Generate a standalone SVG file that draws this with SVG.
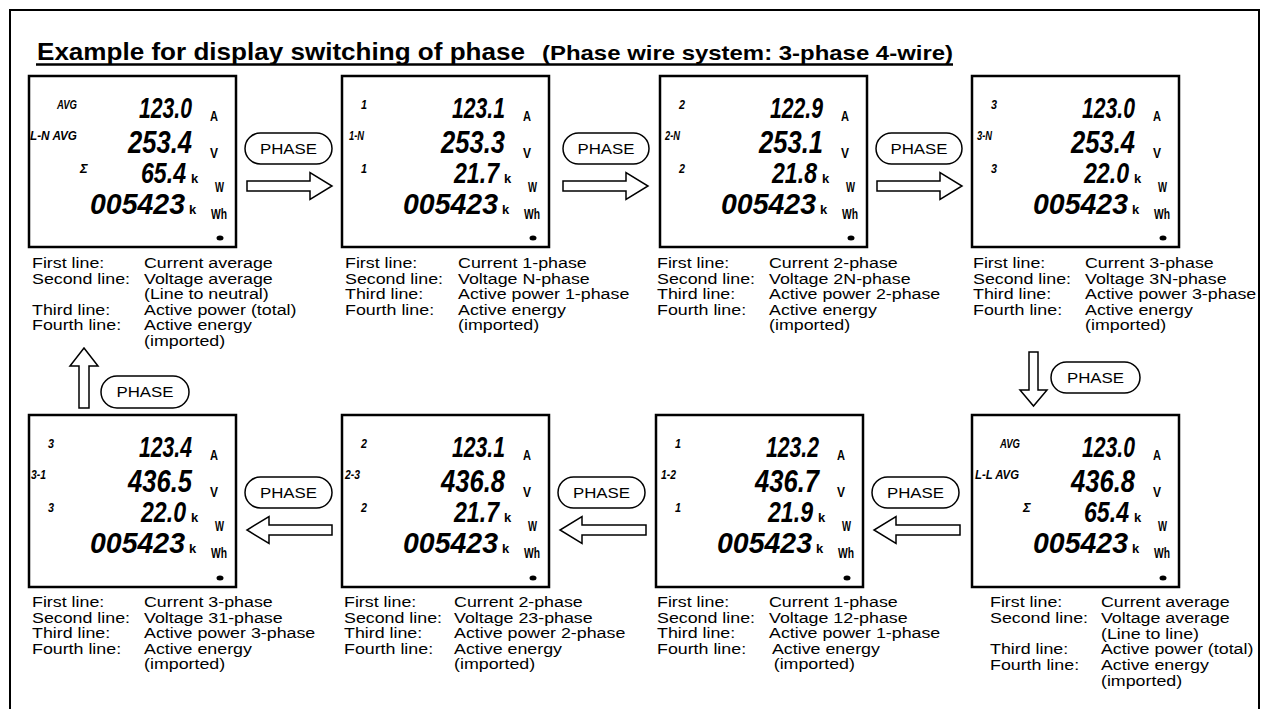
<svg xmlns="http://www.w3.org/2000/svg" width="1267" height="709" viewBox="0 0 1267 709">
<style>
.frame{fill:none;stroke:#000;stroke-width:2}
.lcd{fill:#fff;stroke:#000;stroke-width:2.5}
.lab{font-family:"Liberation Sans",Arial,sans-serif;font-weight:bold;font-style:italic;font-size:13px;fill:#000}
.dig{font-family:"Liberation Sans",Arial,sans-serif;font-weight:bold;font-style:italic;font-size:30px;fill:#000}
.dig2{font-size:32px}
.unit{font-family:"Liberation Sans",Arial,sans-serif;font-weight:bold;font-size:14px;fill:#000}
.kk{font-family:"Liberation Sans",Arial,sans-serif;font-weight:bold;font-size:13px;fill:#000}
.desc text{font-family:"Liberation Sans",Arial,sans-serif;font-size:15.5px;fill:#000}
.arrow{fill:#fff;stroke:#000;stroke-width:1.5;stroke-linejoin:miter}
.pill{fill:#fff;stroke:#000;stroke-width:1.5}
.pl{font-family:"Liberation Sans",Arial,sans-serif;font-size:14px;text-anchor:middle;fill:#000}
.title{font-family:"Liberation Sans",Arial,sans-serif;font-weight:bold;fill:#000}
</style>
<rect x="0" y="0" width="1267" height="709" fill="#fff"/>
<rect class="frame" x="10" y="10" width="1249" height="720"/>
<g id="title">
<text class="title" x="37" y="60" font-size="24" textLength="488" lengthAdjust="spacingAndGlyphs">Example for display switching of phase</text>
<text class="title" x="542" y="60" font-size="21" textLength="411" lengthAdjust="spacingAndGlyphs">(Phase wire system: 3-phase 4-wire)</text>
<line x1="36" y1="64.5" x2="953" y2="64.5" stroke="#000" stroke-width="2.5"/>
</g>

<g id="p1">
<g transform="translate(29,76)">
<rect class="lcd" x="0" y="0" width="207" height="171"/>
<text class="lab" x="28" y="33" textLength="20" lengthAdjust="spacingAndGlyphs">AVG</text>
<text class="lab" x="1" y="64" textLength="47" lengthAdjust="spacingAndGlyphs">L-N AVG</text>
<text class="lab" x="51" y="97">Σ</text>
<text class="dig" x="110" y="42" textLength="53" lengthAdjust="spacingAndGlyphs">123.0</text>
<text class="dig dig2" x="99" y="77" textLength="64" lengthAdjust="spacingAndGlyphs">253.4</text>
<text class="dig" x="112" y="107" textLength="45" lengthAdjust="spacingAndGlyphs">65.4</text>
<text class="dig" x="61" y="138" textLength="95" lengthAdjust="spacingAndGlyphs">005423</text>
<text class="kk" x="162" y="107">k</text><text class="kk" x="160" y="138">k</text>
<text class="unit" x="181" y="45" textLength="8" lengthAdjust="spacingAndGlyphs">A</text>
<text class="unit" x="181" y="82" textLength="8" lengthAdjust="spacingAndGlyphs">V</text>
<text class="unit" x="186" y="116" textLength="9" lengthAdjust="spacingAndGlyphs">W</text>
<text class="unit" x="182" y="143" textLength="16" lengthAdjust="spacingAndGlyphs">Wh</text>
<ellipse cx="191" cy="162" rx="3.5" ry="2.5"/>
</g>
<g class="desc" transform="translate(32,268) scale(1.15,1)">
<text x="0" y="0">First line:</text><text x="97.4" y="0">Current average</text>
<text x="0" y="15.6">Second line:</text><text x="97.4" y="15.6">Voltage average</text>
<text x="97.4" y="31.2">(Line to neutral)</text>
<text x="0" y="46.8">Third line:</text><text x="97.4" y="46.8">Active power (total)</text>
<text x="0" y="62.4">Fourth line:</text><text x="97.4" y="62.4">Active energy</text>
<text x="97.4" y="78">(imported)</text>
</g>
</g>

<g id="p2">
<g transform="translate(342,76)">
<rect class="lcd" x="0" y="0" width="207" height="171"/>
<text class="lab" x="19" y="33" textLength="6" lengthAdjust="spacingAndGlyphs">1</text>
<text class="lab" x="7" y="64" textLength="15" lengthAdjust="spacingAndGlyphs">1-N</text>
<text class="lab" x="19" y="97" textLength="6" lengthAdjust="spacingAndGlyphs">1</text>
<text class="dig" x="110" y="42" textLength="53" lengthAdjust="spacingAndGlyphs">123.1</text>
<text class="dig dig2" x="99" y="77" textLength="64" lengthAdjust="spacingAndGlyphs">253.3</text>
<text class="dig" x="112" y="107" textLength="45" lengthAdjust="spacingAndGlyphs">21.7</text>
<text class="dig" x="61" y="138" textLength="95" lengthAdjust="spacingAndGlyphs">005423</text>
<text class="kk" x="162" y="107">k</text><text class="kk" x="160" y="138">k</text>
<text class="unit" x="181" y="45" textLength="8" lengthAdjust="spacingAndGlyphs">A</text>
<text class="unit" x="181" y="82" textLength="8" lengthAdjust="spacingAndGlyphs">V</text>
<text class="unit" x="186" y="116" textLength="9" lengthAdjust="spacingAndGlyphs">W</text>
<text class="unit" x="182" y="143" textLength="16" lengthAdjust="spacingAndGlyphs">Wh</text>
<ellipse cx="191" cy="162" rx="3.5" ry="2.5"/>
</g>
<g class="desc" transform="translate(345,268) scale(1.15,1)">
<text x="0" y="0">First line:</text><text x="98.3" y="0">Current 1-phase</text>
<text x="0" y="15.6">Second line:</text><text x="98.3" y="15.6">Voltage N-phase</text>
<text x="0" y="31.2">Third line:</text><text x="98.3" y="31.2">Active power 1-phase</text>
<text x="0" y="46.8">Fourth line:</text><text x="98.3" y="46.8">Active energy</text>
<text x="98.3" y="62.4">(imported)</text>
</g>
</g>

<g id="p3">
<g transform="translate(660,76)">
<rect class="lcd" x="0" y="0" width="207" height="171"/>
<text class="lab" x="19" y="33" textLength="6" lengthAdjust="spacingAndGlyphs">2</text>
<text class="lab" x="5" y="64" textLength="15" lengthAdjust="spacingAndGlyphs">2-N</text>
<text class="lab" x="19" y="97" textLength="6" lengthAdjust="spacingAndGlyphs">2</text>
<text class="dig" x="110" y="42" textLength="53" lengthAdjust="spacingAndGlyphs">122.9</text>
<text class="dig dig2" x="99" y="77" textLength="64" lengthAdjust="spacingAndGlyphs">253.1</text>
<text class="dig" x="112" y="107" textLength="45" lengthAdjust="spacingAndGlyphs">21.8</text>
<text class="dig" x="61" y="138" textLength="95" lengthAdjust="spacingAndGlyphs">005423</text>
<text class="kk" x="162" y="107">k</text><text class="kk" x="160" y="138">k</text>
<text class="unit" x="181" y="45" textLength="8" lengthAdjust="spacingAndGlyphs">A</text>
<text class="unit" x="181" y="82" textLength="8" lengthAdjust="spacingAndGlyphs">V</text>
<text class="unit" x="186" y="116" textLength="9" lengthAdjust="spacingAndGlyphs">W</text>
<text class="unit" x="182" y="143" textLength="16" lengthAdjust="spacingAndGlyphs">Wh</text>
<ellipse cx="191" cy="162" rx="3.5" ry="2.5"/>
</g>
<g class="desc" transform="translate(657,268) scale(1.15,1)">
<text x="0" y="0">First line:</text><text x="97.4" y="0">Current 2-phase</text>
<text x="0" y="15.6">Second line:</text><text x="97.4" y="15.6">Voltage 2N-phase</text>
<text x="0" y="31.2">Third line:</text><text x="97.4" y="31.2">Active power 2-phase</text>
<text x="0" y="46.8">Fourth line:</text><text x="97.4" y="46.8">Active energy</text>
<text x="97.4" y="62.4">(imported)</text>
</g>
</g>

<g id="p4">
<g transform="translate(972,76)">
<rect class="lcd" x="0" y="0" width="207" height="171"/>
<text class="lab" x="19" y="33" textLength="6" lengthAdjust="spacingAndGlyphs">3</text>
<text class="lab" x="5" y="64" textLength="15" lengthAdjust="spacingAndGlyphs">3-N</text>
<text class="lab" x="19" y="97" textLength="6" lengthAdjust="spacingAndGlyphs">3</text>
<text class="dig" x="110" y="42" textLength="53" lengthAdjust="spacingAndGlyphs">123.0</text>
<text class="dig dig2" x="99" y="77" textLength="64" lengthAdjust="spacingAndGlyphs">253.4</text>
<text class="dig" x="112" y="107" textLength="45" lengthAdjust="spacingAndGlyphs">22.0</text>
<text class="dig" x="61" y="138" textLength="95" lengthAdjust="spacingAndGlyphs">005423</text>
<text class="kk" x="162" y="107">k</text><text class="kk" x="160" y="138">k</text>
<text class="unit" x="181" y="45" textLength="8" lengthAdjust="spacingAndGlyphs">A</text>
<text class="unit" x="181" y="82" textLength="8" lengthAdjust="spacingAndGlyphs">V</text>
<text class="unit" x="186" y="116" textLength="9" lengthAdjust="spacingAndGlyphs">W</text>
<text class="unit" x="182" y="143" textLength="16" lengthAdjust="spacingAndGlyphs">Wh</text>
<ellipse cx="191" cy="162" rx="3.5" ry="2.5"/>
</g>
<g class="desc" transform="translate(973,268) scale(1.15,1)">
<text x="0" y="0">First line:</text><text x="97.4" y="0">Current 3-phase</text>
<text x="0" y="15.6">Second line:</text><text x="97.4" y="15.6">Voltage 3N-phase</text>
<text x="0" y="31.2">Third line:</text><text x="97.4" y="31.2">Active power 3-phase</text>
<text x="0" y="46.8">Fourth line:</text><text x="97.4" y="46.8">Active energy</text>
<text x="97.4" y="62.4">(imported)</text>
</g>
</g>

<g id="p8">
<g transform="translate(29,415)">
<rect class="lcd" x="0" y="0" width="207" height="172"/>
<text class="lab" x="19" y="33" textLength="6" lengthAdjust="spacingAndGlyphs">3</text>
<text class="lab" x="2" y="64" textLength="15" lengthAdjust="spacingAndGlyphs">3-1</text>
<text class="lab" x="19" y="97" textLength="6" lengthAdjust="spacingAndGlyphs">3</text>
<text class="dig" x="110" y="42" textLength="53" lengthAdjust="spacingAndGlyphs">123.4</text>
<text class="dig dig2" x="99" y="77" textLength="64" lengthAdjust="spacingAndGlyphs">436.5</text>
<text class="dig" x="112" y="107" textLength="45" lengthAdjust="spacingAndGlyphs">22.0</text>
<text class="dig" x="61" y="138" textLength="95" lengthAdjust="spacingAndGlyphs">005423</text>
<text class="kk" x="162" y="107">k</text><text class="kk" x="160" y="138">k</text>
<text class="unit" x="181" y="45" textLength="8" lengthAdjust="spacingAndGlyphs">A</text>
<text class="unit" x="181" y="82" textLength="8" lengthAdjust="spacingAndGlyphs">V</text>
<text class="unit" x="186" y="116" textLength="9" lengthAdjust="spacingAndGlyphs">W</text>
<text class="unit" x="182" y="143" textLength="16" lengthAdjust="spacingAndGlyphs">Wh</text>
<ellipse cx="191" cy="163" rx="3.5" ry="2.5"/>
</g>
<g class="desc" transform="translate(32,607) scale(1.15,1)">
<text x="0" y="0">First line:</text><text x="97.4" y="0">Current 3-phase</text>
<text x="0" y="15.6">Second line:</text><text x="97.4" y="15.6">Voltage 31-phase</text>
<text x="0" y="31.2">Third line:</text><text x="97.4" y="31.2">Active power 3-phase</text>
<text x="0" y="46.8">Fourth line:</text><text x="97.4" y="46.8">Active energy</text>
<text x="97.4" y="62.4">(imported)</text>
</g>
</g>

<g id="p7">
<g transform="translate(342,415)">
<rect class="lcd" x="0" y="0" width="207" height="172"/>
<text class="lab" x="19" y="33" textLength="6" lengthAdjust="spacingAndGlyphs">2</text>
<text class="lab" x="3" y="64" textLength="15" lengthAdjust="spacingAndGlyphs">2-3</text>
<text class="lab" x="19" y="97" textLength="6" lengthAdjust="spacingAndGlyphs">2</text>
<text class="dig" x="110" y="42" textLength="53" lengthAdjust="spacingAndGlyphs">123.1</text>
<text class="dig dig2" x="99" y="77" textLength="64" lengthAdjust="spacingAndGlyphs">436.8</text>
<text class="dig" x="112" y="107" textLength="45" lengthAdjust="spacingAndGlyphs">21.7</text>
<text class="dig" x="61" y="138" textLength="95" lengthAdjust="spacingAndGlyphs">005423</text>
<text class="kk" x="162" y="107">k</text><text class="kk" x="160" y="138">k</text>
<text class="unit" x="181" y="45" textLength="8" lengthAdjust="spacingAndGlyphs">A</text>
<text class="unit" x="181" y="82" textLength="8" lengthAdjust="spacingAndGlyphs">V</text>
<text class="unit" x="186" y="116" textLength="9" lengthAdjust="spacingAndGlyphs">W</text>
<text class="unit" x="182" y="143" textLength="16" lengthAdjust="spacingAndGlyphs">Wh</text>
<ellipse cx="191" cy="163" rx="3.5" ry="2.5"/>
</g>
<g class="desc" transform="translate(344,607) scale(1.15,1)">
<text x="0" y="0">First line:</text><text x="95.7" y="0">Current 2-phase</text>
<text x="0" y="15.6">Second line:</text><text x="95.7" y="15.6">Voltage 23-phase</text>
<text x="0" y="31.2">Third line:</text><text x="95.7" y="31.2">Active power 2-phase</text>
<text x="0" y="46.8">Fourth line:</text><text x="95.7" y="46.8">Active energy</text>
<text x="95.7" y="62.4">(imported)</text>
</g>
</g>

<g id="p6">
<g transform="translate(656,415)">
<rect class="lcd" x="0" y="0" width="207" height="172"/>
<text class="lab" x="19" y="33" textLength="6" lengthAdjust="spacingAndGlyphs">1</text>
<text class="lab" x="5" y="64" textLength="15" lengthAdjust="spacingAndGlyphs">1-2</text>
<text class="lab" x="19" y="97" textLength="6" lengthAdjust="spacingAndGlyphs">1</text>
<text class="dig" x="110" y="42" textLength="53" lengthAdjust="spacingAndGlyphs">123.2</text>
<text class="dig dig2" x="99" y="77" textLength="64" lengthAdjust="spacingAndGlyphs">436.7</text>
<text class="dig" x="112" y="107" textLength="45" lengthAdjust="spacingAndGlyphs">21.9</text>
<text class="dig" x="61" y="138" textLength="95" lengthAdjust="spacingAndGlyphs">005423</text>
<text class="kk" x="162" y="107">k</text><text class="kk" x="160" y="138">k</text>
<text class="unit" x="181" y="45" textLength="8" lengthAdjust="spacingAndGlyphs">A</text>
<text class="unit" x="181" y="82" textLength="8" lengthAdjust="spacingAndGlyphs">V</text>
<text class="unit" x="186" y="116" textLength="9" lengthAdjust="spacingAndGlyphs">W</text>
<text class="unit" x="182" y="143" textLength="16" lengthAdjust="spacingAndGlyphs">Wh</text>
<ellipse cx="191" cy="163" rx="3.5" ry="2.5"/>
</g>
<g class="desc" transform="translate(657,607) scale(1.15,1)">
<text x="0" y="0">First line:</text><text x="97.4" y="0">Current 1-phase</text>
<text x="0" y="15.6">Second line:</text><text x="97.4" y="15.6">Voltage 12-phase</text>
<text x="0" y="31.2">Third line:</text><text x="97.4" y="31.2">Active power 1-phase</text>
<text x="0" y="46.8">Fourth line:</text><text x="100" y="46.8">Active energy</text>
<text x="101.5" y="62.4">(imported)</text>
</g>
</g>

<g id="p5">
<g transform="translate(972,415)">
<rect class="lcd" x="0" y="0" width="207" height="172"/>
<text class="lab" x="28" y="33" textLength="20" lengthAdjust="spacingAndGlyphs">AVG</text>
<text class="lab" x="3" y="64" textLength="44" lengthAdjust="spacingAndGlyphs">L-L AVG</text>
<text class="lab" x="51" y="97">Σ</text>
<text class="dig" x="110" y="42" textLength="53" lengthAdjust="spacingAndGlyphs">123.0</text>
<text class="dig dig2" x="99" y="77" textLength="64" lengthAdjust="spacingAndGlyphs">436.8</text>
<text class="dig" x="112" y="107" textLength="45" lengthAdjust="spacingAndGlyphs">65.4</text>
<text class="dig" x="61" y="138" textLength="95" lengthAdjust="spacingAndGlyphs">005423</text>
<text class="kk" x="162" y="107">k</text><text class="kk" x="160" y="138">k</text>
<text class="unit" x="181" y="45" textLength="8" lengthAdjust="spacingAndGlyphs">A</text>
<text class="unit" x="181" y="82" textLength="8" lengthAdjust="spacingAndGlyphs">V</text>
<text class="unit" x="186" y="116" textLength="9" lengthAdjust="spacingAndGlyphs">W</text>
<text class="unit" x="182" y="143" textLength="16" lengthAdjust="spacingAndGlyphs">Wh</text>
<ellipse cx="191" cy="163" rx="3.5" ry="2.5"/>
</g>
<g class="desc" transform="translate(990,607) scale(1.15,1)">
<text x="0" y="0">First line:</text><text x="96.5" y="0">Current average</text>
<text x="0" y="15.8">Second line:</text><text x="96.5" y="15.8">Voltage average</text>
<text x="96.5" y="31.6">(Line to line)</text>
<text x="0" y="47.4">Third line:</text><text x="96.5" y="47.4">Active power (total)</text>
<text x="0" y="63.2">Fourth line:</text><text x="96.5" y="63.2">Active energy</text>
<text x="96.5" y="79">(imported)</text>
</g>
</g>

<g id="connectors">
<polygon class="arrow" points="247,181 310,181 310,172.5 332,186 310,199.5 310,191 247,191"/>
<polygon class="arrow" points="563,181 626,181 626,172.5 648,186 626,199.5 626,191 563,191"/>
<polygon class="arrow" points="877,181 940,181 940,172.5 962,186 940,199.5 940,191 877,191"/>
<polygon class="arrow" points="1029,352 1038,352 1038,390 1047,390 1033.5,406 1020,390 1029,390"/>
<polygon class="arrow" points="960,525 896,525 896,516.5 874,530 896,543.5 896,535 960,535"/>
<polygon class="arrow" points="646,525 582,525 582,516.5 560,530 582,543.5 582,535 646,535"/>
<polygon class="arrow" points="332,525 269,525 269,516.5 247,530 269,543.5 269,535 332,535"/>
<polygon class="arrow" points="79,408 79,366 70,366 84,348 98,366 89,366 89,408"/>
<rect class="pill" x="245" y="133" width="87" height="31" rx="15.5"/><text class="pl" x="288.5" y="153.5" textLength="57" lengthAdjust="spacingAndGlyphs">PHASE</text>
<rect class="pill" x="563" y="133" width="86" height="31" rx="15.5"/><text class="pl" x="606" y="153.5" textLength="57" lengthAdjust="spacingAndGlyphs">PHASE</text>
<rect class="pill" x="876" y="133" width="86" height="31" rx="15.5"/><text class="pl" x="919" y="153.5" textLength="57" lengthAdjust="spacingAndGlyphs">PHASE</text>
<rect class="pill" x="1051" y="362" width="89" height="31" rx="15.5"/><text class="pl" x="1095.5" y="382.5" textLength="57" lengthAdjust="spacingAndGlyphs">PHASE</text>
<rect class="pill" x="872" y="477" width="87" height="31" rx="15.5"/><text class="pl" x="915.5" y="497.5" textLength="57" lengthAdjust="spacingAndGlyphs">PHASE</text>
<rect class="pill" x="558" y="477" width="87" height="31" rx="15.5"/><text class="pl" x="601.5" y="497.5" textLength="57" lengthAdjust="spacingAndGlyphs">PHASE</text>
<rect class="pill" x="245" y="477" width="87" height="31" rx="15.5"/><text class="pl" x="288.5" y="497.5" textLength="57" lengthAdjust="spacingAndGlyphs">PHASE</text>
<rect class="pill" x="101" y="376" width="88" height="32" rx="16"/><text class="pl" x="145" y="397" textLength="57" lengthAdjust="spacingAndGlyphs">PHASE</text>
</g>
</svg>
